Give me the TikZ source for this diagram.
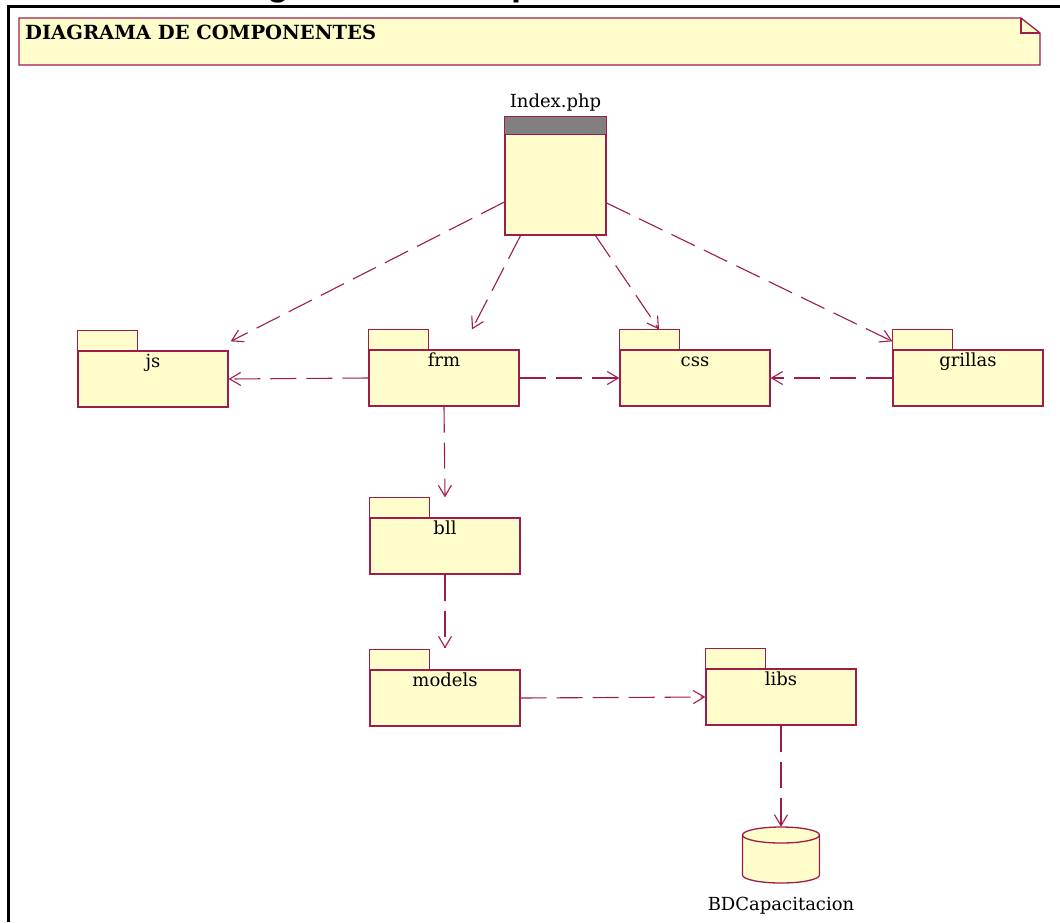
\documentclass[tikz,border=0pt]{standalone}
\usepackage{fontspec}
\setmainfont{DejaVu Serif}
\newfontfamily\titlesans{Liberation Sans}
\usetikzlibrary{arrows.meta}
\definecolor{umlred}{RGB}{160,28,72}
\definecolor{umlfill}{RGB}{255,253,204}
\definecolor{hdrgray}{RGB}{128,128,128}
\begin{document}
\begin{tikzpicture}[x=1pt,y=-1pt,
  box/.style={draw=umlred, fill=umlfill, line width=1.3pt},
  pkgbody/.style={box, minimum width=150pt, minimum height=56pt, inner sep=0pt},
  pkgtab/.style={box},
  lbl/.style={font=\fontsize{18}{20}\selectfont, text=black, inner sep=0pt},
  dep/.style={draw=umlred, line width=1.1pt, dash pattern=on 26pt off 10pt,
              -{Straight Barb[length=11pt,width=13pt]}}]
\useasboundingbox (0,0) rectangle (1060,922);
\fill[white] (0,0) rectangle (1060,922);
% cut-off caption above the frame
\begin{scope}
\clip (0,0) rectangle (1060,922);
\node[anchor=base west, font=\titlesans\bfseries\fontsize{36}{40}\selectfont, inner sep=0pt] (caption) at (211,-5) {Diagrama de componentes};
\end{scope}
% frame
\draw[line width=3pt] (8,922) -- (8,6) -- (1060,6);
% note
\draw[box] (19,18) -- (1021,18) -- (1040,33) -- (1040,65) -- (19,65) -- cycle;
\draw[umlred, line width=1.3pt] (1021,18) -- (1021,33) -- (1040,33);
\node[anchor=north west, font=\bfseries\fontsize{19.5}{22}\selectfont, inner sep=0pt] (title) at (25,25) {DIAGRAMA DE COMPONENTES};
% component Index.php
\node[box, minimum width=101pt, minimum height=118pt, inner sep=0pt] (idx) at (555.5,176) {};
\fill[hdrgray] (idx.north west) rectangle ([yshift=-18pt]idx.north east);
\draw[umlred, line width=1.3pt] (idx.north west) rectangle (idx.south east);
\draw[umlred, line width=1.3pt] ([yshift=-18pt]idx.north west) -- ([yshift=-18pt]idx.north east);
\node[lbl, anchor=base] (idxlbl) at ([yshift=9pt]idx.north) {Index.php};
% packages
\foreach \n/\x/\y/\t in {js/153/379/js, frm/444/378/frm, css/695/378/css, gr/968/378/grillas,
                          bll/445/546/bll, models/445/698/models, libs/781/697/libs}{
  \node[pkgbody] (\n) at (\x,\y) {};
  \draw[pkgtab] (\n.north west) rectangle ++(60pt,20pt);
  \draw[umlred, line width=1.3pt] (\n.north west) rectangle (\n.south east);
  \node[lbl, anchor=base] (\n lbl) at ([yshift=-17pt]\n.north) {\t};
}
% database
\node[minimum width=77pt, minimum height=56pt, inner sep=0pt] (db) at (781,855) {};
\path[box] (742.5,835) -- (742.5,875)
   arc[start angle=180, end angle=360, x radius=38.5pt, y radius=8pt]
   -- (819.5,835)
   arc[start angle=0, end angle=180, x radius=38.5pt, y radius=8pt] -- cycle;
\draw[umlred, line width=1.3pt] (742.5,835) arc[start angle=180, end angle=360, x radius=38.5pt, y radius=8pt];
\node[lbl, anchor=base] (dblbl) at ([yshift=-27pt]db.south) {BDCapacitacion};
% dependencies
\draw[dep] ([yshift=-26pt]idx.west) -- ([shift={(2pt,9pt)}]js.north east);
\draw[dep] ([xshift=-35pt]idx.south) -- ([shift={(28pt,20pt)}]frm.north);
\draw[dep] ([xshift=40pt]idx.south) -- ([shift={(-36pt,20pt)}]css.north);
\draw[dep] ([yshift=-27pt]idx.east) -- ([yshift=8pt]gr.north west);
\draw[dep] (frm.west) -- (js.east);
\draw[dep] (frm.east) -- (css.west);
\draw[dep] (gr.west) -- (css.east);
\draw[dep] (frm.south) -- ([yshift=20pt]bll.north);
\draw[dep] (bll.south) -- ([yshift=21pt]models.north);
\draw[dep] (models.east) -- (libs.west);
\draw[dep] (libs.south) -- (db.north);
\end{tikzpicture}
\end{document}
